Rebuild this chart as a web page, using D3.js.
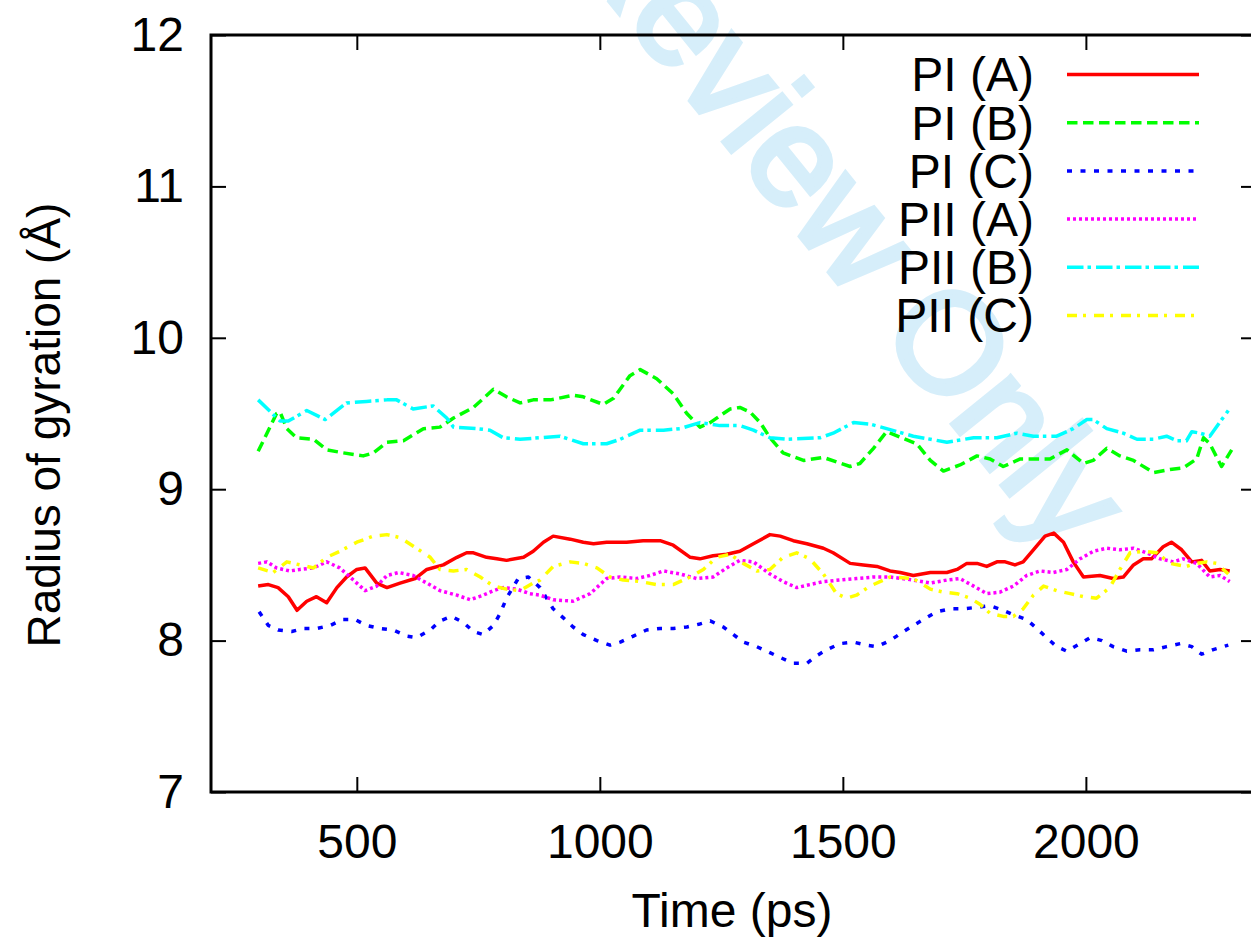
<!DOCTYPE html>
<html>
<head>
<meta charset="utf-8">
<script src="https://cdn.jsdelivr.net/npm/d3@7"></script>
<style>
    body { margin: 0; background: #fff; }
    svg { display: block; }
</style>
</head>
<body>
<div id="chart"></div>
<script>
// values
var seriesNames = ["PI (A)", "PI (B)", "PI (C)", "PII (A)", "PII (B)", "PII (C)"];
var xTicks = [500, 1000, 1500, 2000];
var yTicks = [7, 8, 9, 10, 11, 12];

var piA_t = [297, 318, 338, 359, 377, 397, 417, 438, 459, 479, 500, 517, 541, 562, 589, 620, 644, 678, 706, 726, 740, 767, 788, 808, 843, 863, 884, 904, 939, 966, 987, 1014, 1055, 1089, 1124, 1151, 1186, 1206, 1233, 1261, 1288, 1316, 1350, 1371, 1398, 1426, 1460, 1480, 1515, 1542, 1570, 1597, 1618, 1645, 1680, 1714, 1735, 1755, 1776, 1796, 1817, 1834, 1854, 1871, 1892, 1916, 1934, 1954, 1974, 1995, 2029, 2056, 2077, 2098, 2118, 2135, 2159, 2176, 2197, 2218, 2238, 2255, 2276, 2296];
var piA_v = [8.36, 8.37, 8.35, 8.29, 8.20, 8.26, 8.29, 8.25, 8.35, 8.42, 8.47, 8.48, 8.38, 8.35, 8.38, 8.41, 8.47, 8.50, 8.55, 8.58, 8.58, 8.55, 8.54, 8.53, 8.55, 8.59, 8.65, 8.69, 8.67, 8.65, 8.64, 8.65, 8.65, 8.66, 8.66, 8.63, 8.55, 8.54, 8.56, 8.57, 8.59, 8.64, 8.70, 8.69, 8.66, 8.64, 8.61, 8.58, 8.51, 8.50, 8.49, 8.46, 8.45, 8.43, 8.45, 8.45, 8.47, 8.51, 8.51, 8.49, 8.52, 8.52, 8.50, 8.52, 8.60, 8.69, 8.71, 8.65, 8.52, 8.42, 8.43, 8.41, 8.42, 8.50, 8.54, 8.54, 8.62, 8.65, 8.60, 8.52, 8.53, 8.46, 8.47, 8.46];

var piB_t = [297, 335, 342, 356, 376, 411, 438, 472, 513, 534, 562, 596, 637, 671, 699, 740, 781, 808, 836, 863, 898, 945, 966, 1007, 1028, 1062, 1083, 1117, 1151, 1179, 1206, 1227, 1268, 1288, 1309, 1330, 1350, 1377, 1419, 1460, 1487, 1515, 1535, 1563, 1590, 1652, 1680, 1707, 1741, 1776, 1803, 1830, 1865, 1892, 1926, 1961, 1995, 2015, 2043, 2070, 2098, 2139, 2173, 2200, 2228, 2242, 2255, 2279, 2300];
var piB_v = [9.25, 9.50, 9.51, 9.40, 9.34, 9.33, 9.26, 9.24, 9.22, 9.24, 9.31, 9.32, 9.40, 9.41, 9.47, 9.54, 9.66, 9.61, 9.57, 9.59, 9.59, 9.62, 9.61, 9.56, 9.60, 9.75, 9.79, 9.73, 9.63, 9.50, 9.41, 9.44, 9.53, 9.54, 9.51, 9.44, 9.34, 9.24, 9.19, 9.21, 9.18, 9.15, 9.17, 9.27, 9.38, 9.30, 9.19, 9.12, 9.16, 9.22, 9.20, 9.15, 9.20, 9.20, 9.20, 9.26, 9.17, 9.19, 9.27, 9.22, 9.19, 9.11, 9.13, 9.14, 9.20, 9.34, 9.30, 9.15, 9.26];

var piC_t = [299, 318, 338, 366, 390, 417, 445, 472, 496, 520, 548, 575, 603, 623, 651, 671, 695, 719, 740, 760, 781, 795, 808, 832, 853, 877, 904, 925, 945, 966, 994, 1021, 1042, 1069, 1096, 1124, 1151, 1179, 1206, 1227, 1254, 1275, 1295, 1323, 1350, 1377, 1398, 1426, 1446, 1467, 1494, 1522, 1549, 1570, 1597, 1625, 1645, 1666, 1693, 1721, 1748, 1776, 1803, 1830, 1851, 1878, 1899, 1919, 1940, 1961, 1988, 2009, 2033, 2056, 2084, 2111, 2139, 2166, 2194, 2218, 2238, 2262, 2293];
var piC_v = [8.19, 8.10, 8.07, 8.06, 8.08, 8.08, 8.10, 8.14, 8.14, 8.10, 8.08, 8.07, 8.03, 8.02, 8.07, 8.13, 8.16, 8.12, 8.06, 8.04, 8.10, 8.18, 8.28, 8.41, 8.42, 8.35, 8.21, 8.15, 8.09, 8.04, 8.00, 7.97, 7.99, 8.03, 8.07, 8.08, 8.08, 8.09, 8.11, 8.13, 8.09, 8.04, 7.99, 7.96, 7.92, 7.88, 7.85, 7.85, 7.90, 7.94, 7.98, 7.99, 7.97, 7.96, 8.00, 8.06, 8.10, 8.14, 8.19, 8.21, 8.21, 8.22, 8.23, 8.20, 8.17, 8.14, 8.08, 8.02, 7.96, 7.93, 7.98, 8.02, 8.00, 7.96, 7.93, 7.94, 7.94, 7.96, 7.98, 7.96, 7.91, 7.94, 7.97];

var piiA_t = [297, 315, 335, 362, 383, 411, 438, 465, 493, 517, 541, 562, 586, 616, 644, 671, 706, 733, 760, 781, 801, 829, 856, 877, 904, 945, 980, 1014, 1042, 1076, 1103, 1131, 1165, 1199, 1233, 1261, 1288, 1316, 1350, 1377, 1405, 1432, 1460, 1494, 1528, 1563, 1597, 1645, 1680, 1714, 1741, 1769, 1796, 1823, 1851, 1878, 1906, 1933, 1961, 1988, 2015, 2043, 2070, 2098, 2125, 2153, 2180, 2200, 2228, 2255, 2276, 2296];
var piiA_v = [8.51, 8.52, 8.48, 8.46, 8.47, 8.48, 8.52, 8.48, 8.40, 8.33, 8.36, 8.43, 8.45, 8.43, 8.38, 8.33, 8.30, 8.27, 8.30, 8.33, 8.35, 8.34, 8.31, 8.30, 8.27, 8.26, 8.31, 8.41, 8.42, 8.41, 8.43, 8.46, 8.44, 8.41, 8.42, 8.48, 8.53, 8.52, 8.44, 8.39, 8.35, 8.37, 8.39, 8.40, 8.41, 8.42, 8.42, 8.40, 8.38, 8.40, 8.41, 8.36, 8.31, 8.32, 8.36, 8.43, 8.46, 8.45, 8.47, 8.54, 8.59, 8.61, 8.60, 8.61, 8.58, 8.54, 8.52, 8.54, 8.51, 8.42, 8.43, 8.39];

var piiB_t = [297, 342, 359, 397, 435, 479, 520, 562, 582, 616, 657, 685, 699, 747, 774, 801, 836, 877, 918, 966, 1014, 1042, 1083, 1131, 1165, 1206, 1247, 1288, 1316, 1350, 1385, 1453, 1480, 1522, 1556, 1590, 1645, 1680, 1714, 1769, 1817, 1858, 1892, 1940, 1974, 2002, 2015, 2043, 2077, 2105, 2139, 2166, 2187, 2207, 2218, 2235, 2255, 2293];
var piiB_v = [9.59, 9.45, 9.45, 9.52, 9.46, 9.57, 9.58, 9.59, 9.59, 9.53, 9.55, 9.47, 9.41, 9.40, 9.39, 9.34, 9.33, 9.34, 9.35, 9.30, 9.30, 9.33, 9.39, 9.39, 9.40, 9.44, 9.42, 9.42, 9.39, 9.34, 9.33, 9.34, 9.37, 9.44, 9.43, 9.40, 9.35, 9.33, 9.31, 9.34, 9.34, 9.37, 9.35, 9.35, 9.40, 9.46, 9.46, 9.40, 9.37, 9.33, 9.33, 9.35, 9.32, 9.32, 9.38, 9.37, 9.35, 9.52];

var piiC_t = [297, 328, 356, 383, 411, 438, 465, 500, 534, 562, 589, 623, 651, 671, 699, 726, 754, 781, 808, 836, 863, 877, 904, 939, 966, 994, 1021, 1048, 1083, 1117, 1151, 1186, 1213, 1240, 1268, 1295, 1323, 1350, 1377, 1405, 1432, 1460, 1487, 1508, 1528, 1556, 1597, 1645, 1680, 1707, 1735, 1762, 1782, 1803, 1830, 1851, 1871, 1892, 1913, 1940, 1968, 1995, 2022, 2049, 2070, 2091, 2118, 2146, 2173, 2207, 2228, 2249, 2269, 2293];
var piiC_v = [8.48, 8.45, 8.52, 8.50, 8.48, 8.55, 8.59, 8.65, 8.69, 8.70, 8.68, 8.61, 8.55, 8.47, 8.46, 8.47, 8.42, 8.36, 8.34, 8.33, 8.38, 8.40, 8.49, 8.52, 8.51, 8.48, 8.42, 8.40, 8.39, 8.37, 8.37, 8.42, 8.47, 8.55, 8.57, 8.51, 8.46, 8.47, 8.55, 8.58, 8.54, 8.44, 8.31, 8.28, 8.30, 8.36, 8.42, 8.41, 8.34, 8.32, 8.31, 8.28, 8.24, 8.18, 8.16, 8.16, 8.21, 8.30, 8.36, 8.33, 8.31, 8.29, 8.28, 8.35, 8.47, 8.58, 8.59, 8.58, 8.51, 8.49, 8.51, 8.52, 8.51, 8.44];

function drawChart() {
    var width = 1251;
    var height = 941;
    var font = "'Liberation Sans', Arial, Helvetica, sans-serif";

    var plotLeft = 211, plotRight = 1256, plotTop = 35, plotBottom = 792;

    var x = d3.scaleLinear().domain([200, 2350]).range([plotLeft, plotRight]);
    var y = d3.scaleLinear().domain([7, 12]).range([plotBottom, plotTop]);

    var series = [
        { name: seriesNames[0], t: piA_t, v: piA_v, color: "#ff0000", dash: null },
        { name: seriesNames[1], t: piB_t, v: piB_v, color: "#00ff00", dash: "10.5,5.5" },
        { name: seriesNames[2], t: piC_t, v: piC_v, color: "#0000ff", dash: "5,8.5" },
        { name: seriesNames[3], t: piiA_t, v: piiA_v, color: "#ff00ff", dash: "3,3" },
        { name: seriesNames[4], t: piiB_t, v: piiB_v, color: "#00ffff", dash: "16.5,4,3.5,5" },
        { name: seriesNames[5], t: piiC_t, v: piiC_v, color: "#ffff00", dash: "10,6,3,8" }
    ];

    var svg = d3.select("#chart").append("svg")
        .attr("width", width)
        .attr("height", height)
        .style("font-family", font);

    // watermark
    svg.append("text")
        .attr("transform", "translate(400,-258) rotate(51)")
        .attr("font-size", 142)
        .attr("fill", "#d6eefa")
        .attr("stroke", "#d6eefa")
        .attr("stroke-width", 5)
        .text("For Review Only");

    // axes, ticks point inward
    function styleAxis(g) {
        g.select(".domain").remove();
        g.selectAll(".tick line").attr("stroke", "#000").attr("stroke-width", 2);
        g.selectAll(".tick text").attr("fill", "#000").attr("font-size", 48).style("font-family", font);
    }

    svg.append("g")
        .attr("transform", "translate(" + plotLeft + ",0)")
        .call(d3.axisLeft(y).tickValues(yTicks).tickFormat(d3.format("d")).tickSizeInner(-15).tickSizeOuter(0).tickPadding(27))
        .call(styleAxis);

    svg.append("g")
        .attr("transform", "translate(" + plotRight + ",0)")
        .call(d3.axisRight(y).tickValues(yTicks).tickSizeInner(-15).tickSizeOuter(0).tickFormat(""))
        .call(styleAxis);

    svg.append("g")
        .attr("transform", "translate(0," + plotBottom + ")")
        .call(d3.axisBottom(x).tickValues(xTicks).tickFormat(d3.format("d")).tickSizeInner(-15).tickSizeOuter(0).tickPadding(32))
        .call(styleAxis);

    svg.append("g")
        .attr("transform", "translate(0," + plotTop + ")")
        .call(d3.axisTop(x).tickValues(xTicks).tickSizeInner(-15).tickSizeOuter(0).tickFormat(""))
        .call(styleAxis);

    svg.append("rect")
        .attr("x", plotLeft)
        .attr("y", plotTop)
        .attr("width", plotRight - plotLeft)
        .attr("height", plotBottom - plotTop)
        .attr("fill", "none")
        .attr("stroke", "#000")
        .attr("stroke-width", 3);

    // axis titles
    svg.append("text")
        .attr("x", 732)
        .attr("y", 927)
        .attr("text-anchor", "middle")
        .attr("font-size", 48)
        .text("Time (ps)");

    svg.append("text")
        .attr("transform", "translate(60,425) rotate(-90)")
        .attr("text-anchor", "middle")
        .attr("font-size", 46)
        .text("Radius of gyration (Å)");

    // lines
    var line = d3.line()
        .x(function (d) { return x(d[0]); })
        .y(function (d) { return y(d[1]); });

    series.forEach(function (s) {
        var pts = s.t.map(function (t, i) { return [t, s.v[i]]; });
        svg.append("path")
            .datum(pts)
            .attr("fill", "none")
            .attr("stroke", s.color)
            .attr("stroke-width", 3.5)
            .attr("stroke-linejoin", "round")
            .attr("stroke-dasharray", s.dash)
            .attr("d", line);
    });

    // legend
    var legend = svg.append("g");
    series.forEach(function (s, i) {
        var ly = 74.5 + i * 48.2;
        legend.append("text")
            .attr("x", 1034)
            .attr("y", ly)
            .attr("dy", "0.35em")
            .attr("text-anchor", "end")
            .attr("font-size", 48)
            .text(s.name);
        legend.append("line")
            .attr("x1", 1067)
            .attr("x2", 1199)
            .attr("y1", ly)
            .attr("y2", ly)
            .attr("stroke", s.color)
            .attr("stroke-width", 3.5)
            .attr("stroke-dasharray", s.dash);
    });
}

drawChart();
</script>
</body>
</html>
